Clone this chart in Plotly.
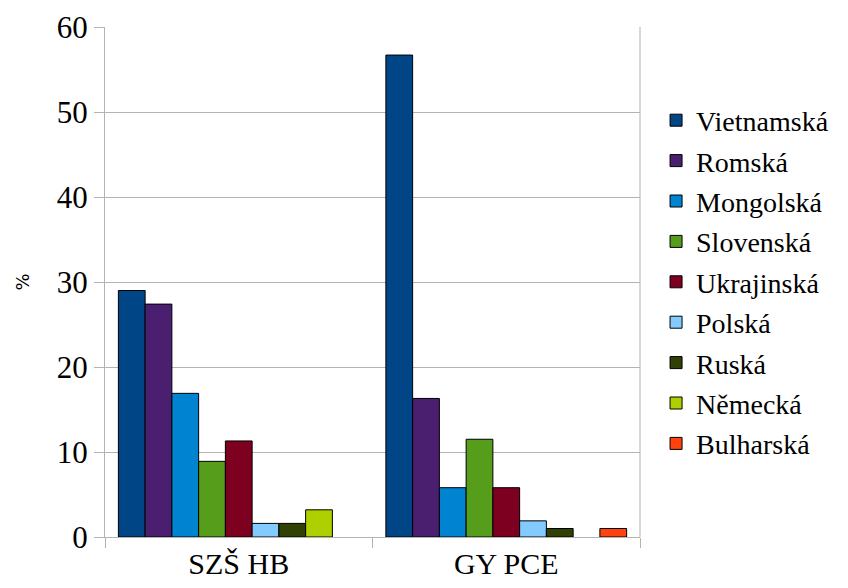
import plotly.graph_objects as go

categories = ["SZŠ HB", "GY PCE"]
languages = ["Vietnamská", "Romská", "Mongolská", "Slovenská", "Ukrajinská",
             "Polská", "Ruská", "Německá", "Bulharská"]
szs_hb = [29.0, 27.4, 16.9, 8.9, 11.3, 1.6, 1.6, 3.2, None]
gy_pce = [56.7, 16.3, 5.8, 11.5, 5.8, 1.9, 1.0, None, 1.0]
colors = ["#004586", "#4b1f6f", "#0084d1", "#579d1c", "#7e0021",
          "#83caff", "#314004", "#aecf00", "#ff420e"]
y_ticks = [0, 10, 20, 30, 40, 50, 60]

serif = "Liberation Serif, Times, serif"

fig = go.Figure()
for i, lang in enumerate(languages):
    fig.add_trace(go.Bar(
        name=lang,
        x=categories,
        y=[szs_hb[i], gy_pce[i]],
        marker=dict(color=colors[i], line=dict(color="#000000", width=1)),
        legendgroup=lang,
    ))

fig.update_layout(
    barmode="group",
    bargap=0.1,
    bargroupgap=0,
    width=840,
    height=580,
    margin=dict(l=97, r=208, t=19, b=51),
    paper_bgcolor="white",
    plot_bgcolor="white",
    showlegend=True,
    legend=dict(
        x=1.03, xanchor="left", y=0.5, yanchor="middle",
        font=dict(family=serif, size=28, color="#000000"),
        tracegroupgap=1,
        itemwidth=30,
        bgcolor="rgba(0,0,0,0)",
    ),
    xaxis=dict(
        type="category",
        automargin=False,
        tickfont=dict(family=serif, size=30, color="#000000"),
        showline=True, linecolor="#b3b3b3", linewidth=1,
        ticks="outside", tickson="boundaries", ticklen=10, tickcolor="#b3b3b3",
        showgrid=False,
    ),
    yaxis=dict(
        range=[0, 60],
        automargin=False,
        tickvals=y_ticks,
        tickfont=dict(family=serif, size=31, color="#000000"),
        showline=True, linecolor="#b3b3b3", linewidth=1,
        ticks="outside", ticklen=10, tickcolor="#b3b3b3",
        showgrid=True, gridcolor="#b3b3b3", gridwidth=1,
        zeroline=False,
        title=dict(text="%", font=dict(family="DejaVu Sans", size=18, color="#000000"), standoff=22),
    ),
)
fig.add_shape(type="line", xref="paper", yref="paper", x0=1, x1=1, y0=0, y1=1,
              line=dict(color="#b3b3b3", width=1))

fig.write_html("out.html")
